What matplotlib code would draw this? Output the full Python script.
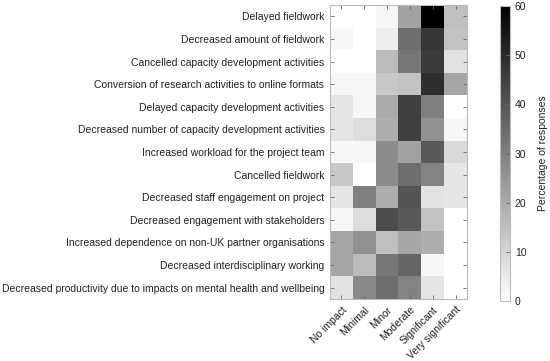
import numpy as np
import matplotlib
matplotlib.use("Agg")
import matplotlib.pyplot as plt

plt.rcParams['font.family'] = ['Liberation Sans', 'DejaVu Sans']

impacts = [
    "Delayed fieldwork",
    "Decreased amount of fieldwork",
    "Cancelled capacity development activities",
    "Conversion of research activities to online formats",
    "Delayed capacity development activities",
    "Decreased number of capacity development activities",
    "Increased workload for the project team",
    "Cancelled fieldwork",
    "Decreased staff engagement on project",
    "Decreased engagement with stakeholders",
    "Increased dependence on non-UK partner organisations",
    "Decreased interdisciplinary working",
    "Decreased productivity due to impacts on mental health and wellbeing",
]
levels = ["No impact", "Minimal", "Minor", "Moderate", "Significant", "Very significant"]

no_impact   = [0, 2, 0, 2, 6, 6, 2, 13, 6, 2, 21, 21, 7]
minimal     = [0, 0, 0, 2, 2, 8, 2, 0, 30, 8, 26, 16, 28]
minor       = [2, 4, 16, 13, 20, 19, 27, 27, 19, 42, 15, 32, 34]
moderate    = [22, 34, 32, 14, 45, 45, 22, 34, 40, 39, 21, 36, 29]
significant = [60, 47, 46, 49, 30, 26, 39, 29, 7, 14, 19, 2, 6]
very_sig    = [15, 14, 7, 21, 0, 2, 9, 6, 6, 0, 0, 0, 0]

data = np.array([no_impact, minimal, minor, moderate, significant, very_sig]).T

fs = 7.5
fig = plt.figure(figsize=(5.5, 3.61), dpi=100)
ax = fig.add_axes([330/550, 1-299/361, 137/550, 294/361])
im = ax.imshow(data, cmap='gray_r', vmin=0, vmax=60, aspect='auto', interpolation='nearest')

ax.set_xticks(np.arange(len(levels)))
ax.set_xticklabels(levels, rotation=45, ha='right', rotation_mode='anchor', fontsize=fs)
ax.set_yticks(np.arange(len(impacts)))
ax.set_yticklabels(impacts, fontsize=fs)
ax.tick_params(direction='in', length=3, top=True, right=True,
               labeltop=False, labelright=False, width=0.6, color='#666666',
               labelcolor='#222222', pad=4)
for s in ax.spines.values():
    s.set_color('#bbbbbb')
    s.set_linewidth(0.8)

cax = fig.add_axes([500/550, 1-301/361, 10/550, 295/361])
cb = fig.colorbar(im, cax=cax)
cb.set_ticks([0, 10, 20, 30, 40, 50, 60])
cb.ax.tick_params(labelsize=fs, length=3, direction='in', width=0.6, color='#666666',
                  labelcolor='#222222')
cb.outline.set_edgecolor('#bbbbbb')
cb.outline.set_linewidth(0.8)
cb.set_label('Percentage of responses', fontsize=fs, labelpad=8, color='#222222')

fig.savefig('out.png', dpi=100)
